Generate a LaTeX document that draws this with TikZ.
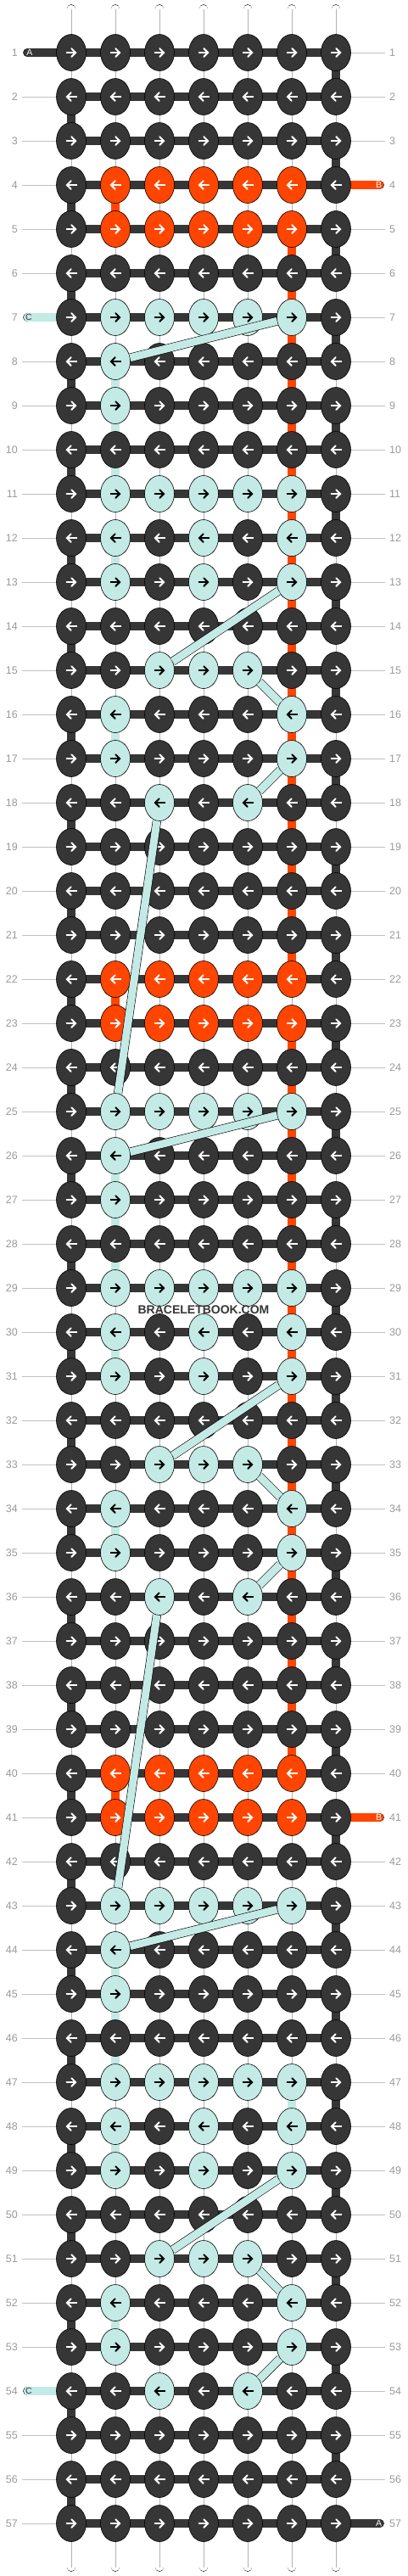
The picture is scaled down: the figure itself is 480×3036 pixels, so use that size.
\documentclass[tikz,border=0pt]{standalone}
\usepackage{fontspec}
\setmainfont{Liberation Sans}
\usetikzlibrary{arrows,shapes.geometric}

\definecolor{kfA}{HTML}{363636}
\definecolor{kfB}{HTML}{FF4500}
\definecolor{kfC}{HTML}{C4EAE5}
\colorlet{kaA}{white}
\colorlet{kaB}{white}
\colorlet{kaC}{black}
\colorlet{tcA}{kfA}
\colorlet{tcB}{kfB}
\colorlet{tcC}{kfC}
\colorlet{tcW}{white}
\definecolor{numgray}{HTML}{9A9A9A}
\definecolor{linegray}{HTML}{C0C0C0}

\pgfdeclarelayer{bg}
\pgfsetlayers{bg,main}

\tikzset{
  knot/.style={ellipse, draw=black, line width=0.6pt, minimum width=35pt, minimum height=43pt, inner sep=0pt},
  thread/.style={draw=black, line width=0.6pt, double distance=9.5pt},
  warpmid/.style={draw=gray!60, line width=0.5pt},
  knotarrow/.style={->, line width=2pt},
  band/.style={draw=black, line width=0.6pt, double=kfC, double distance=9pt},
  rownum/.style={text=numgray, font=\fontsize{12.5}{14}\selectfont, inner sep=0pt},
  guide/.style={draw=linegray, line width=0.8pt},
  tailtext/.style={font=\fontsize{10.5}{12}\selectfont, inner sep=0pt},
}

\begin{document}
\begin{tikzpicture}[x=1pt,y=1pt,>=angle 90]
\useasboundingbox (0,0) rectangle (480,-3036);

% which knots are orange (B) or light (C)
\foreach \r in {4,5,22,23,40,41}
  \foreach \c in {2,...,6}
    {\expandafter\xdef\csname kc-\r-\c\endcsname{B}}
\foreach \o in {0,18,36}
  \foreach \r/\cl in {7/{2,3,4,5,6},8/2,9/2,11/{2,3,4,5,6},12/{2,4,6},13/{2,4,6},15/{3,4,5},16/{2,6},17/{2,6},18/{3,5}}
    {\pgfmathtruncatemacro\rr{\r+\o}
     \foreach \c in \cl {\expandafter\xdef\csname kc-\rr-\c\endcsname{C}}}

% thread colours between rows
\foreach \g in {5,...,39}
  {\ifnum\g=22 \else\expandafter\xdef\csname vc-\g-6\endcsname{B}\fi}
\foreach \g in {4,22,40}
  {\expandafter\xdef\csname vc-\g-2\endcsname{B}}
\foreach \o in {0,18,36}
  \foreach \g in {8,9,10,12,16}
    {\pgfmathtruncatemacro\gg{\g+\o}\expandafter\xdef\csname vc-\gg-2\endcsname{C}}
\expandafter\xdef\csname vc-47-6\endcsname{C}

% rows with a loose end instead of a guide line
\foreach \r in {1,7,54}
  {\expandafter\xdef\csname tl-\r\endcsname{1}}
\foreach \r in {4,41,57}
  {\expandafter\xdef\csname tr-\r\endcsname{1}}

% knots
\foreach \r in {1,...,57}
  \foreach \c in {1,...,7}
  {
    \ifcsname kc-\r-\c\endcsname \edef\kl{\csname kc-\r-\c\endcsname}\else \def\kl{A}\fi
    \node[knot, fill=kf\kl] (k-\r-\c) at ({84+52*(\c-1)},{-62-52*(\r-1)}) {};
    \ifodd\r\relax
      \draw[knotarrow, draw=ka\kl] ([xshift=-6.5pt]k-\r-\c.center) -- ([xshift=6.5pt]k-\r-\c.center);
    \else
      \draw[knotarrow, draw=ka\kl] ([xshift=6.5pt]k-\r-\c.center) -- ([xshift=-6.5pt]k-\r-\c.center);
    \fi
  }

% row numbers
\foreach \r in {1,...,57}
{
  \node[rownum, anchor=east] (numl-\r) at (21,{-62-52*(\r-1)}) {\r};
  \node[rownum, anchor=west] (numr-\r) at (459,{-62-52*(\r-1)}) {\r};
}

% loose ends
\coordinate (endA1) at (32.5,-62);
\coordinate (endB1) at (447.5,-218);
\coordinate (endC1) at (32.5,-374);
\coordinate (endB2) at (447.5,-2142);
\coordinate (endC2) at (32.5,-2818);
\coordinate (endA2) at (447.5,-2974);

\begin{pgfonlayer}{bg}
\fill[white] (0,0) rectangle (480,-3036);
\foreach \c in {1,...,7}
{
  \coordinate (top-\c) at ({84+52*(\c-1)},-10.5);
  \coordinate (bot-\c) at ({84+52*(\c-1)},-3025.5);
  \draw[thread, double=tcW, line cap=round] (top-\c) -- (k-1-\c.center);
  \draw[thread, double=tcW, line cap=round] (bot-\c) -- (k-57-\c.center);
  \draw[warpmid] (top-\c) -- (k-1-\c.center);
  \draw[warpmid] (bot-\c) -- (k-57-\c.center);
}
% threads between rows
\foreach \g in {1,...,56}
  \foreach \c in {1,...,7}
  {
    \pgfmathtruncatemacro\gg{\g+1}
    \def\vl{W}
    \ifodd\g\relax \ifnum\c=7 \def\vl{A}\fi \else \ifnum\c=1 \def\vl{A}\fi \fi
    \ifcsname vc-\g-\c\endcsname \edef\vl{\csname vc-\g-\c\endcsname}\fi
    \draw[thread, double=tc\vl] (k-\g-\c.center) -- (k-\gg-\c.center);
    \if W\vl \draw[warpmid] (k-\g-\c.center) -- (k-\gg-\c.center);\fi
  }
% weft
\foreach \r in {1,...,57}
  \foreach \c in {1,...,6}
  {
    \pgfmathtruncatemacro\cc{\c+1}
    \draw[thread, double=tcA] (k-\r-\c.center) -- (k-\r-\cc.center);
  }
\draw[thread, double=tcA, line cap=round] (endA1) -- (k-1-1.center);
\draw[thread, double=tcB, line cap=round] (endB1) -- (k-4-7.center);
\draw[thread, double=tcC, line cap=round] (endC1) -- (k-7-1.center);
\draw[thread, double=tcB, line cap=round] (endB2) -- (k-41-7.center);
\draw[thread, double=tcC, line cap=round] (endC2) -- (k-54-1.center);
\draw[thread, double=tcA, line cap=round] (endA2) -- (k-57-7.center);
% guide lines
\foreach \r in {1,...,57}
{
  \ifcsname tl-\r\endcsname\else \draw[guide] ([xshift=5pt]numl-\r.east) -- (k-\r-1.west);\fi
  \ifcsname tr-\r\endcsname\else \draw[guide] (k-\r-7.east) -- ([xshift=-5pt]numr-\r.west);\fi
}
\end{pgfonlayer}

\node[tailtext, text=white] (lblA1) at (35,-62) {A};
\node[tailtext, text=white] (lblB1) at (446.5,-218) {B};
\node[tailtext, text=kfA] (lblC1) at (34,-374) {C};
\node[tailtext, text=white] (lblB2) at (446.5,-2142) {B};
\node[tailtext, text=kfA] (lblC2) at (34,-2818) {C};
\node[tailtext, text=white] (lblA2) at (446.5,-2974) {A};

% light thread carried behind
\foreach \o in {0,18,36}
  \foreach \ra/\ca/\rb/\cb in {7/6/8/2,13/6/15/3,15/5/16/6,17/6/18/5}
  {
    \pgfmathtruncatemacro\rra{\ra+\o}
    \pgfmathtruncatemacro\rrb{\rb+\o}
    \draw[band] (k-\rra-\ca) -- (k-\rrb-\cb);
  }
\draw[band] (k-18-3) -- (k-25-2);
\draw[band] (k-36-3) -- (k-43-2);

\node[font=\bfseries\fontsize{14}{16}\selectfont, text=kfA, inner sep=0pt] (mark) at (240,-1543.5) {BRACELETBOOK.COM};
\end{tikzpicture}
\end{document}
